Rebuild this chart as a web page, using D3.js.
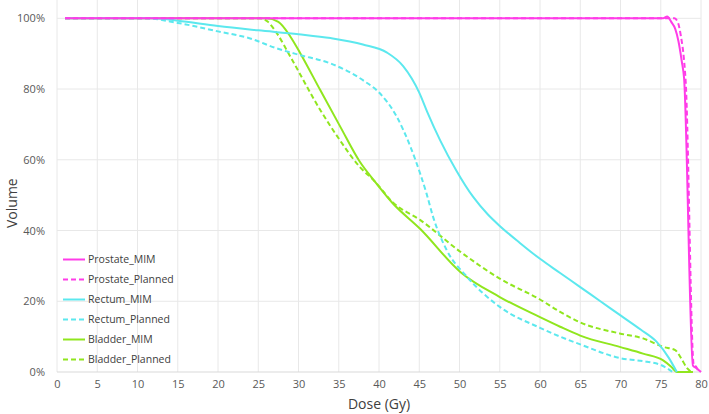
<!DOCTYPE html>
<html><head><meta charset="utf-8">
<script src="https://cdn.jsdelivr.net/npm/d3@7"></script>
<style>
html,body{margin:0;padding:0;background:#fff;}
svg{display:block;font-family:"Open Sans",sans-serif;}
</style></head>
<body><svg id="c" width="709" height="414"></svg>
<script>
// ---- data (dose Gy, volume %) ----
const prostateMIM = [[1,100],[75.3,100],[75.8,100.5],[76.3,99],[76.8,97],[77.2,93.5],[77.6,88],[77.9,83],[79.0,1.8],[79.5,1],[80,0]];
const prostatePlanned = [[1,100],[76.7,100],[77.1,99],[77.5,95],[77.9,88],[78.1,82],[79.1,2],[79.4,1.5],[79.7,0]];
const rectumMIM = [[1,100],[12,100],[15,99.3],[20,97.8],[25,96.6],[30,95.5],[34,94.4],[38,92.6],[41,90.3],[43,86.5],[45,79],[46,73.5],[47.6,65.5],[49.6,57],[51.7,49.5],[53.5,44.6],[55,41.3],[57.5,36.5],[60,32],[62.5,28],[65,24],[67.5,20],[70,16],[72.5,12],[74.5,8.5],[76,4],[77,0]];
const rectumPlanned = [[1,100],[11,100],[15,98.7],[20,96.3],[24,94.3],[27.3,91.5],[30,89.7],[33.9,87.3],[38,82.5],[40.1,78.8],[42.2,72.2],[43.9,63.7],[45.1,56.2],[45.9,50.5],[46.7,44],[48.4,34.5],[50.9,27],[55,18.4],[60,12.5],[62.5,10],[65,7.8],[70,3.9],[73.3,2.9],[75,2],[76.5,0]];
const bladderMIM = [[1,100],[26,100],[27.5,99],[29,94.8],[30.2,90.2],[32.7,79.7],[35.2,69.3],[37.6,59.5],[39.5,53.8],[41.7,47.7],[45.1,40.5],[50.1,28.3],[55,21.2],[60,15.5],[62.5,12.8],[65,10.3],[69.9,7.1],[72.8,5.2],[75.3,3.3],[76.3,1.5],[77,0],[79,0]];
const bladderPlanned = [[1,100],[25.2,100],[26.2,99],[27.3,95.8],[29,89.1],[32.7,74.1],[35,66],[37.6,58],[39.5,53.8],[41.7,48],[45.1,43],[50.1,34],[55,26.4],[60,20.5],[62.5,17],[65,14],[69.9,10.9],[72.8,9.5],[75.3,7.1],[76.8,6.2],[77.5,4],[78.3,1],[78.8,0]];

const seriesNames = ["Prostate_MIM","Prostate_Planned","Rectum_MIM","Rectum_Planned","Bladder_MIM","Bladder_Planned"];
const seriesData = [prostateMIM, prostatePlanned, rectumMIM, rectumPlanned, bladderMIM, bladderPlanned];
const seriesColors = ["#FF3CE8","#FF3CE8","#5CE8EE","#5CE8EE","#90E61E","#90E61E"];
const seriesDashed = [false,true,false,true,false,true];
const xTicks = d3.range(0, 81, 5);
const yTicks = [0,20,40,60,80,100];

const svg = d3.select("#c");
const x = d3.scaleLinear().domain([0,80]).range([57,701]);
const y = d3.scaleLinear().domain([0,100]).range([372,18.3]);
const topY = 0;

// grid
const g = svg.append("g");
g.selectAll("line.v").data(xTicks).join("line")
  .attr("x1", d=>x(d)).attr("x2", d=>x(d))
  .attr("y1", topY).attr("y2", y(0))
  .attr("stroke", "#e8e8e8").attr("stroke-width", 1);
g.selectAll("line.h").data(yTicks).join("line")
  .attr("x1", x(0)).attr("x2", x(80))
  .attr("y1", d=>y(d)).attr("y2", d=>y(d))
  .attr("stroke", d=> d===0 ? "#d9d9d9" : "#e8e8e8").attr("stroke-width", 1);

// axes labels
const xAxis = d3.axisBottom(x).tickValues(xTicks).tickSize(0).tickPadding(8);
const xa = svg.append("g").attr("transform", `translate(0,${y(0)})`).call(xAxis);
xa.select(".domain").remove();
xa.selectAll("text").attr("font-size", 11).attr("fill", "#595959").attr("font-family","Open Sans");

const yAxis = d3.axisLeft(y).tickValues(yTicks).tickSize(0).tickPadding(12).tickFormat(d=>d+"%");
const ya = svg.append("g").attr("transform", `translate(${x(0)},0)`).call(yAxis);
ya.select(".domain").remove();
ya.selectAll("text").attr("font-size", 11).attr("fill", "#595959").attr("font-family","Open Sans");

svg.append("text").attr("x", (x(0)+x(80))/2).attr("y", 409)
  .attr("text-anchor","middle").attr("font-size", 14).attr("fill","#404040").text("Dose (Gy)");
svg.append("text").attr("transform", `translate(17,${(y(0)+y(100))/2 + 8}) rotate(-90)`)
  .attr("text-anchor","middle").attr("font-size", 14).attr("fill","#404040").text("Volume");

// lines
const line = d3.line().x(d=>x(d[0])).y(d=>y(d[1])).curve(d3.curveMonotoneX);
const order = [4,5,2,3,1,0];
order.forEach(i=>{
  svg.append("path").datum(seriesData[i])
    .attr("d", line).attr("fill","none")
    .attr("stroke", seriesColors[i]).attr("stroke-width", 2)
    .attr("stroke-dasharray", seriesDashed[i] ? "5,3" : null)
    .attr("stroke-linejoin","round");
});

// legend
const lg = svg.append("g");
seriesNames.forEach((n,i)=>{
  const ly = 259.5 + i*20;
  lg.append("line").attr("x1", 63).attr("x2", 85).attr("y1", ly).attr("y2", ly)
    .attr("stroke", seriesColors[i]).attr("stroke-width", 2)
    .attr("stroke-dasharray", seriesDashed[i] ? "5,3" : null);
  lg.append("text").attr("x", 88).attr("y", ly).attr("dy","0.35em")
    .attr("font-size", 10.5).attr("fill","#404040").text(n);
});
</script></body></html>
